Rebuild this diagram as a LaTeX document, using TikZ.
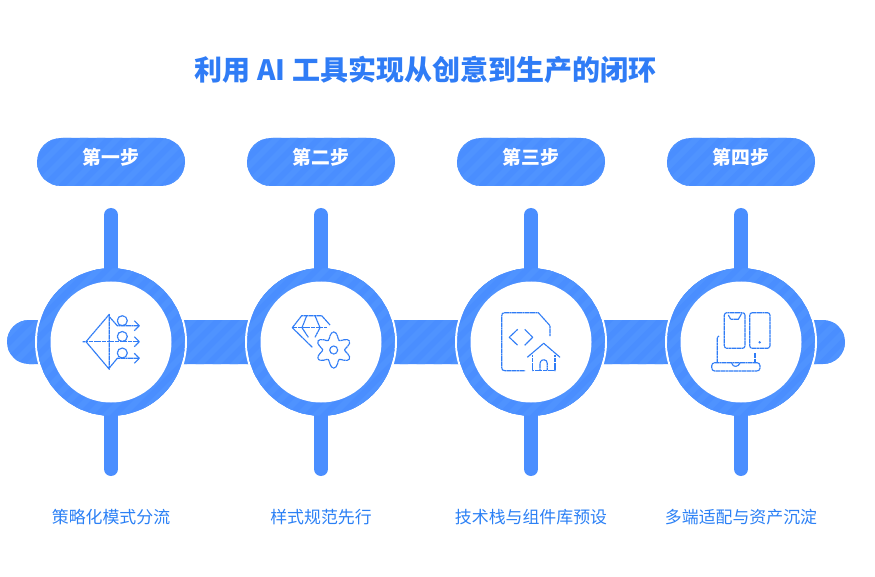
\documentclass[tikz,border=0pt]{standalone}
\usepackage{fontspec}
\setmainfont{Noto Sans CJK SC}
\definecolor{base}{HTML}{4A8EFF}
\definecolor{stripe}{HTML}{4F93FF}
\definecolor{ink}{HTML}{2F7CF6}
\definecolor{lbl}{HTML}{2B80F5}
\tikzset{
  stripefill/.style={fill=base,inner sep=0pt,outer sep=0pt,
    path picture={\begin{scope}[shift={(path picture bounding box.center)}]
      \foreach \i in {-30,...,30}
        \draw[stripe,line width=6pt] (\i*17-150,150) -- (\i*17+150,-150);
    \end{scope}}},
  ringnode/.style={circle,stripefill,minimum size=147.5pt},
  holenode/.style={circle,fill=white,inner sep=0pt,outer sep=0pt,minimum size=121pt},
  halonode/.style={circle,fill=white,inner sep=0pt,outer sep=0pt,minimum size=152pt},
  pillnode/.style={rectangle,rounded corners=24pt,stripefill,minimum width=148pt,minimum height=48pt},
  pilltext/.style={text=white,font=\fontsize{18.8}{20}\selectfont\bfseries},
  stubline/.style={draw=base,line width=14pt,line cap=round},
  captionnode/.style={text=lbl,font=\fontsize{16.9}{20}\selectfont},
  ico/.style={draw=ink,line width=1.15pt,dash pattern=on 2.2pt off 0.4pt,line join=round,line cap=butt},
}
\begin{document}
\begin{tikzpicture}[x=1pt,y=-1pt]
\useasboundingbox (0,0) rectangle (875,577);
\node[text=ink,font=\fontsize{28}{32}\selectfont\bfseries] (title) at (425.5,70) {利用 AI 工具实现从创意到生产的闭环};
\node[rectangle,rounded corners=22pt,stripefill,minimum width=838pt,minimum height=44pt] (bar) at (426,342) {};
\foreach \n/\x/\s/\c in {1/111/第一步/策略化模式分流,2/321/第二步/样式规范先行,3/531/第三步/技术栈与组件库预设,4/741/第四步/多端适配与资产沉淀}{
  \node[halonode] (halo\n) at (\x,342) {};
  \node[ringnode] (ring\n) at (\x,342) {};
  \coordinate (up\n) at (\x,215);
  \coordinate (down\n) at (\x,469);
  \draw[stubline] (up\n) -- (ring\n.north);
  \draw[stubline] (down\n) -- (ring\n.south);
  \node[ringnode] (front\n) at (\x,342) {};
  \node[holenode] (hole\n) at (\x,342) {};
  \node[pillnode] (pill\n) at (\x,162) {};
  \node[pilltext] (step\n) at (\x,157.5) {\s};
  \node[captionnode] (cap\n) at (\x,517) {\c};
}
% icon 1
\draw[ico] (82.7,341.7) -- (86,341.7) -- (109.3,314.3) -- (109.3,369.3) -- (86,341.7);
\draw[ico] (86,341.7) -- (139.3,341.7);
\draw[ico] (134.3,336.7) -- (139.3,341.7) -- (134.3,346.7);
\draw[ico] (122.3,320.7) circle (5);
\draw[ico] (122.3,336.5) circle (5);
\draw[ico] (122.3,353) circle (5);
\draw[ico] (109.3,316.7) -- (117.3,325.7) -- (139.3,325.7);
\draw[ico] (134.3,320.7) -- (139.3,325.7) -- (134.3,330.7);
\draw[ico] (109.3,368) -- (117.3,358.3) -- (139.3,358.3);
\draw[ico] (134.3,353.3) -- (139.3,358.3) -- (134.3,363.3);
% icon 2
\draw[ico] (330,325) -- (321.7,315.7) -- (301.7,315.7) -- (292.3,327.7) -- (312.3,347.3);
\draw[ico] (292.3,327.7) -- (327.3,327.7);
\draw[ico] (306.7,315.7) -- (302,327.7) -- (308.3,337.3);
\draw[ico] (315,315.7) -- (320,327.7) -- (315,337.3);
\draw[ico] plot[smooth cycle,samples=48,domain=0:352.5] ({333.7+(14.5+3.6*cos(6*(\x-90)))*cos(\x)},{350+(14.5+3.6*cos(6*(\x-90)))*sin(\x)});
\draw[ico] (333.7,350) circle (4);
% icon 3
\draw[ico] (550,336) -- (550,325.7) -- (538.3,312.7) -- (505,312.7) .. controls (502.5,312.7) and (501.7,313.5) .. (501.7,316) -- (501.7,367.3) .. controls (501.7,369.8) and (502.5,370.7) .. (505,370.7) -- (525,370.7);
\draw[ico] (517.7,329.3) -- (509.3,337.3) -- (517.7,345.3);
\draw[ico] (524.7,329.3) -- (532.7,337.3) -- (524.7,345.3);
\draw[ico] (527.3,357.3) -- (543.7,343.3) -- (560,357.3);
\draw[ico] (532.3,355) -- (532.3,370.7) -- (555,370.7) -- (555,355);
\draw[ico] (540,370.7) -- (540,363.3) .. controls (540,358.5) and (547.3,358.5) .. (547.3,363.3) -- (547.3,370.7);
% icon 4
\draw[ico,rounded corners=2.5pt] (724.3,312.7) rectangle (745,348.3);
\draw[ico] (728.3,315) -- (730.7,319.3) -- (738.3,319.3) -- (741.7,313.5);
\draw[ico,rounded corners=2.5pt] (749.7,312.7) rectangle (770,348.3);
\fill[ink] (759.7,342.3) circle (1.3);
\draw[ico] (719,336) .. controls (717.8,336) and (717.3,336.6) .. (717.3,337.5) -- (717.3,362.7);
\draw[ico] (755,353.3) -- (755,362.7);
\draw[ico,rounded corners=3pt] (711.7,362.7) -- (711.7,371) -- (760,371) -- (760,362.7) -- cycle;
\draw[ico] (731.7,363.2) .. controls (733,367.5) and (738,367.5) .. (740,363.2);
\end{tikzpicture}
\end{document}
